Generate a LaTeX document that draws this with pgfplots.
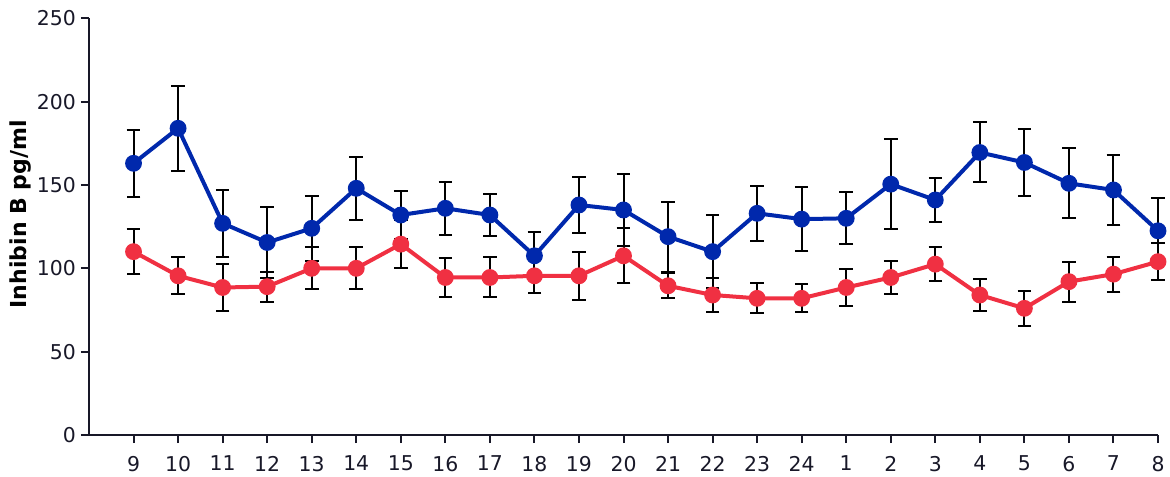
\documentclass[border=0pt]{standalone}
\usepackage{fontspec}
\setmainfont{DejaVu Sans}
\usepackage{pgfplots}
\usepackage{pgfplotstable}
\pgfplotsset{compat=1.18}

\definecolor{seriesblue}{RGB}{0,40,172}
\definecolor{seriesred}{RGB}{240,48,66}
\definecolor{axisdark}{RGB}{24,24,40}

% x = position, y = mean, e = error
\pgfplotstableread{
x y e
0 163 20
1 184 25.5
2 127 20
3 115.5 21.5
4 124 19.5
5 148 19
6 132 14.5
7 136 16
8 132 12.5
9 107.5 14.5
10 138 17
11 135 21.5
12 119 21
13 110 22
14 133 16.5
15 129.5 19
16 130 15.5
17 150.5 27
18 141 13
19 169.5 18
20 163.5 20
21 151 21
22 147 21
23 122.5 19.5
}\bluedata

\pgfplotstableread{
x y e
0 110 13.5
1 95.5 11
2 88.5 14
3 89 9
4 100 12.5
5 100 12.5
6 114.5 14.5
7 94.5 11.5
8 94.5 12
9 95.5 10.5
10 95.5 14.5
11 107.5 16.5
12 89.5 7.5
13 84 10
14 82 9
15 82 8.5
16 88.5 11
17 94.5 10
18 102.5 10
19 84 9.5
20 76 10.5
21 92 12
22 96.5 10.5
23 104 11
}\reddata

\begin{document}
\begin{tikzpicture}
\useasboundingbox (-44.5pt,-20.5pt) rectangle (540.5pt,217.5pt);
\begin{axis}[
  at={(0,0)}, anchor=south west,
  scale only axis,
  width=534.5pt, height=208.35pt,
  xmin=-1, xmax=23,
  ymin=0, ymax=250,
  ytick={0,50,...,250},
  xtick={0,...,23},
  xticklabels={9,10,11,12,13,14,15,16,17,18,19,20,21,22,23,24,1,2,3,4,5,6,7,8},
  axis x line*=bottom,
  axis y line*=left,
  axis line style={axisdark, line width=1pt, -},
  tick style={axisdark, line width=1pt},
  tick align=outside,
  major tick length=4pt,
  tick label style={font=\fontsize{10.2}{12}\selectfont, text=axisdark},
  /pgf/number format/assume math mode=true,
  xticklabel style={yshift=-3pt},
  yticklabel style={xshift=1pt},
  ylabel={\bfseries Inhibin B pg/ml},
  ylabel style={at={(axis description cs:-0.0645,0.53)}, anchor=center, font=\fontsize{11}{12}\selectfont, text=black},
  clip=false,
  error bars/y dir=both,
  error bars/y explicit,
  error bars/error bar style={black, line width=1pt},
  error bars/error mark options={black, line width=1pt, mark size=3.4pt, rotate=90},
]
\addplot[seriesred, line width=2pt, mark=*, mark size=3.2pt,
  mark options={fill=seriesred, draw=seriesred, solid}]
  table[x=x, y=y, y error=e] {\reddata};
\addplot[seriesblue, line width=2pt, mark=*, mark size=3.2pt,
  mark options={fill=seriesblue, draw=seriesblue, solid}]
  table[x=x, y=y, y error=e] {\bluedata};
\end{axis}
\end{tikzpicture}
\end{document}
